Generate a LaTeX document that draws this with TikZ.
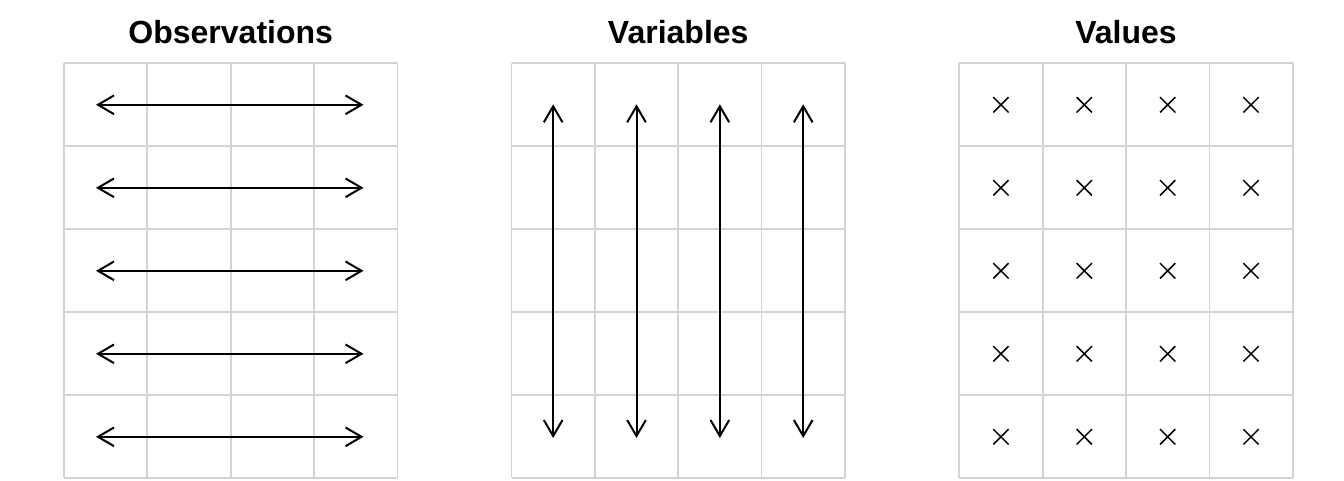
\documentclass[tikz,border=0pt]{standalone}
\usepackage{fontspec}
\setmainfont{Liberation Sans}
\definecolor{gridgray}{RGB}{211, 211, 211}
\usetikzlibrary{arrows.meta, shapes.misc}

\begin{document}
\begin{tikzpicture}[
  x=0.75pt, y=-0.75pt,
  gridline/.style={draw=gridgray, line width=1.3pt},
  paneltitle/.style={font=\fontsize{24}{28}\selectfont\bfseries, anchor=base},
  dblarrow/.style={{Straight Barb[length=12pt, width=14pt]}-{Straight Barb[length=12pt, width=14pt]}, line width=1.5pt},
  valmark/.style={cross out, draw, line width=1.1pt, minimum size=11.5pt, inner sep=0pt, outer sep=0pt}
]
  \useasboundingbox (0,0) rectangle (1344,480);

  % Grids, 4 columns x 5 rows each
  \foreach \p/\x in {obs/64, var/511.5, val/959.3} {
    \foreach \i in {0,...,4}
      \draw[gridline] (\x+\i*83.35, 63.3) -- (\x+\i*83.35, 478.3);
    \foreach \j in {0,...,5}
      \draw[gridline] (\x, 63.3+\j*83) -- (\x+333.4, 63.3+\j*83);
  }

  % Titles
  \node[paneltitle] (obstitle) at (230.7, 43.5) {Observations};
  \node[paneltitle] (vartitle) at (678.2, 43.5) {Variables};
  \node[paneltitle] (valtitle) at (1126, 43.5) {Values};

  % Observations: one arrow per row
  \foreach \r in {1,...,5} {
    \coordinate (obs-l-\r) at (96, 63.3+\r*83-41.5);
    \coordinate (obs-r-\r) at (363.5, 63.3+\r*83-41.5);
    \draw[dblarrow] (obs-l-\r) -- (obs-r-\r);
  }

  % Variables: one arrow per column
  \foreach \c in {1,...,4} {
    \coordinate (var-t-\c) at (511.5+\c*83.35-41.7, 104.3);
    \coordinate (var-b-\c) at (511.5+\c*83.35-41.7, 438);
    \draw[dblarrow] (var-t-\c) -- (var-b-\c);
  }

  % Values: one mark per cell
  \foreach \r in {1,...,5}
    \foreach \c in {1,...,4}
      \node[valmark] (val-\r-\c) at (959.3+\c*83.35-41.7, 63.3+\r*83-41.5) {};
\end{tikzpicture}
\end{document}
